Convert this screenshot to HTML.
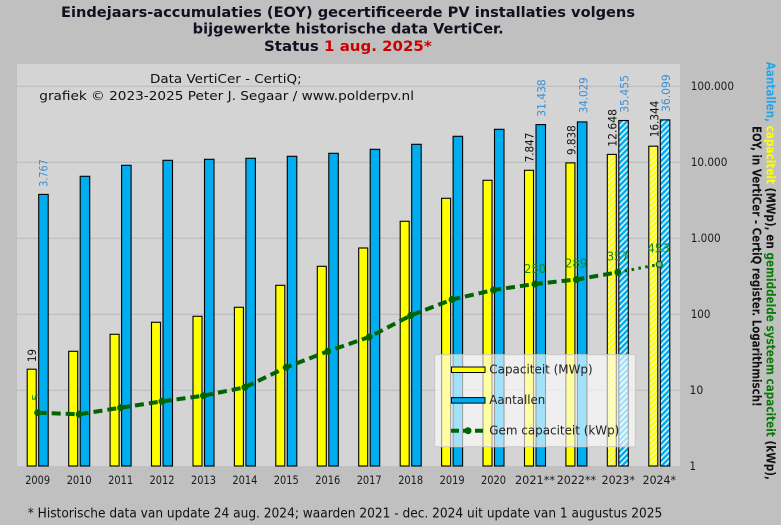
<!DOCTYPE html>
<html><head><meta charset="utf-8"><style>
html,body{margin:0;padding:0;background:#c0c0c0;}
svg{display:block;}
text{font-family:"DejaVu Sans","Liberation Sans",sans-serif;}
</style></head><body>
<svg width="781" height="525" viewBox="0 0 781 525" xmlns="http://www.w3.org/2000/svg">
<defs>
<pattern id="hy" width="4" height="4" patternUnits="userSpaceOnUse" patternTransform="rotate(45)">
<rect width="4" height="4" fill="#f4f4c0"/><rect width="2.5" height="4" fill="#ffff00"/>
</pattern>
<pattern id="hb" width="4" height="4" patternUnits="userSpaceOnUse" patternTransform="rotate(45)">
<rect width="4" height="4" fill="#e8f4fa"/><rect width="2.5" height="4" fill="#00aeef"/>
</pattern>
</defs>
<rect width="781" height="525" fill="#c0c0c0"/>
<rect x="17" y="64" width="663" height="402" fill="#d4d4d4"/>
<g stroke="#b8b8b8" stroke-width="1">
<line x1="17" x2="680" y1="86.3" y2="86.3"/>
<line x1="17" x2="680" y1="162.3" y2="162.3"/>
<line x1="17" x2="680" y1="238.3" y2="238.3"/>
<line x1="17" x2="680" y1="314.3" y2="314.3"/>
<line x1="17" x2="680" y1="390.3" y2="390.3"/>
</g>

<!-- Title -->
<g font-weight="bold" font-size="14.5" fill="#101020">
<text x="61" y="17" textLength="574" lengthAdjust="spacingAndGlyphs">Eindejaars-accumulaties (EOY) gecertificeerde PV installaties volgens</text>
<text x="192.7" y="33.5" textLength="311" lengthAdjust="spacingAndGlyphs">bijgewerkte historische data VertiCer.</text>
<text x="264" y="51" textLength="167.7" lengthAdjust="spacingAndGlyphs">Status <tspan fill="#cc0000">1 aug. 2025*</tspan></text>
</g>

<g font-size="12" fill="#111">
<text x="150" y="83" textLength="151.7" lengthAdjust="spacingAndGlyphs">Data VertiCer - CertiQ;</text>
<text x="39.3" y="100" textLength="374.7" lengthAdjust="spacingAndGlyphs">grafiek © 2023-2025 Peter J. Segaar / www.polderpv.nl</text>
</g>

<!-- Bars -->
<g stroke="#000" stroke-width="1.1">
<rect x="27.2" y="369.2" width="9" height="96.8" fill="#ffff00"/><rect x="38.7" y="194.4" width="9.5" height="271.6" fill="#00aeef"/>
<rect x="68.7" y="351.3" width="9" height="114.7" fill="#ffff00"/><rect x="80.2" y="176.3" width="9.5" height="289.7" fill="#00aeef"/>
<rect x="110.1" y="334.3" width="9" height="131.7" fill="#ffff00"/><rect x="121.6" y="165.3" width="9.5" height="300.7" fill="#00aeef"/>
<rect x="151.5" y="322.3" width="9" height="143.7" fill="#ffff00"/><rect x="163.0" y="160.3" width="9.5" height="305.7" fill="#00aeef"/>
<rect x="193.0" y="316.3" width="9" height="149.7" fill="#ffff00"/><rect x="204.5" y="159.3" width="9.5" height="306.7" fill="#00aeef"/>
<rect x="234.4" y="307.3" width="9" height="158.7" fill="#ffff00"/><rect x="245.9" y="158.3" width="9.5" height="307.7" fill="#00aeef"/>
<rect x="275.8" y="285.3" width="9" height="180.7" fill="#ffff00"/><rect x="287.3" y="156.3" width="9.5" height="309.7" fill="#00aeef"/>
<rect x="317.3" y="266.3" width="9" height="199.7" fill="#ffff00"/><rect x="328.8" y="153.3" width="9.5" height="312.7" fill="#00aeef"/>
<rect x="358.7" y="248" width="9" height="218" fill="#ffff00"/><rect x="370.2" y="149.3" width="9.5" height="316.7" fill="#00aeef"/>
<rect x="400.2" y="221.3" width="9" height="244.7" fill="#ffff00"/><rect x="411.7" y="144.3" width="9.5" height="321.7" fill="#00aeef"/>
<rect x="441.6" y="198.3" width="9" height="267.7" fill="#ffff00"/><rect x="453.1" y="136.3" width="9.5" height="329.7" fill="#00aeef"/>
<rect x="483.0" y="180.3" width="9" height="285.7" fill="#ffff00"/><rect x="494.5" y="129.3" width="9.5" height="336.7" fill="#00aeef"/>
<rect x="524.5" y="170.3" width="9" height="295.7" fill="#ffff00"/><rect x="536.0" y="124.6" width="9.5" height="341.4" fill="#00aeef"/>
<rect x="565.9" y="162.9" width="9" height="303.1" fill="#ffff00"/><rect x="577.4" y="121.9" width="9.5" height="344.1" fill="#00aeef"/>
<rect x="607.3" y="154.4" width="9" height="311.6" fill="url(#hy)"/><rect x="618.8" y="120.5" width="9.5" height="345.5" fill="url(#hb)"/>
<rect x="648.8" y="146.2" width="9" height="319.8" fill="url(#hy)"/><rect x="660.3" y="119.9" width="9.5" height="346.1" fill="url(#hb)"/>
</g>

<!-- Legend -->
<rect x="434.7" y="354.7" width="200.6" height="92" fill="#ffffff" fill-opacity="0.63" stroke="#c8c8c8" stroke-width="1"/>
<rect x="451.5" y="367" width="33.5" height="5.5" fill="#ffff00" stroke="#000" stroke-width="1"/>
<rect x="451.5" y="397.6" width="33.5" height="5.5" fill="#00aeef" stroke="#000" stroke-width="1"/>
<line x1="451" y1="430.7" x2="486" y2="430.7" stroke="#006400" stroke-width="4" stroke-dasharray="8 4"/>
<circle cx="468" cy="430.7" r="3.5" fill="#006400"/>
<g font-size="12" fill="#222">
<text x="489.3" y="373.5" textLength="103.4" lengthAdjust="spacingAndGlyphs">Capaciteit (MWp)</text>
<text x="489.3" y="404" textLength="56" lengthAdjust="spacingAndGlyphs">Aantallen</text>
<text x="489.3" y="434.5" textLength="130" lengthAdjust="spacingAndGlyphs">Gem capaciteit (kWp)</text>
</g>

<!-- Line -->
<polyline fill="none" stroke="#006400" stroke-width="4" stroke-dasharray="9 5"
points="37.7,412.7 79.2,414.3 120.6,407.7 162.0,401.3 203.5,395.7 244.9,387.3 286.3,367.3 327.8,351.3 369.2,337 410.7,315.5 452.1,299.5 493.5,290 535.0,284 576.4,279.5 617.8,272.3"/>
<line x1="617.8" y1="272.3" x2="659.3" y2="264.4" stroke="#006400" stroke-width="3" stroke-dasharray="2.5 4.5"/>
<g fill="#006400">
<circle cx="37.7" cy="412.7" r="3.5"/><circle cx="79.2" cy="414.3" r="3.5"/><circle cx="120.6" cy="407.7" r="3.5"/>
<circle cx="162.0" cy="401.3" r="3.5"/><circle cx="203.5" cy="395.7" r="3.5"/><circle cx="244.9" cy="387.3" r="3.5"/>
<circle cx="286.3" cy="367.3" r="3.5"/><circle cx="327.8" cy="351.3" r="3.5"/><circle cx="369.2" cy="337" r="3.5"/>
<circle cx="410.7" cy="315.5" r="3.5"/><circle cx="452.1" cy="299.5" r="3.5"/><circle cx="493.5" cy="290" r="3.5"/>
<circle cx="535.0" cy="284" r="3.5"/><circle cx="576.4" cy="279.5" r="3.5"/><circle cx="617.8" cy="272.3" r="3.5"/>
</g>
<circle cx="659.3" cy="264.4" r="3" fill="#8fb08f" stroke="#006400" stroke-width="1.2"/>

<!-- line labels -->
<g font-size="12" fill="#168a16" text-anchor="middle">
<text x="535" y="273" textLength="21.7" lengthAdjust="spacingAndGlyphs">250</text>
<text x="576.2" y="267.3" textLength="22.3" lengthAdjust="spacingAndGlyphs">289</text>
<text x="617.7" y="260.7" textLength="22" lengthAdjust="spacingAndGlyphs">357</text>
<text x="658.7" y="252.3" textLength="22.7" lengthAdjust="spacingAndGlyphs">453</text>
</g>
<text transform="translate(40,400.7) rotate(-90)" font-size="11" fill="#168a16" textLength="7" lengthAdjust="spacingAndGlyphs">5</text>

<!-- bar labels -->
<g font-size="11.5" fill="#111">
<text transform="translate(36,362) rotate(-90)" textLength="13" lengthAdjust="spacingAndGlyphs">19</text>
<text transform="translate(533.3,162.3) rotate(-90)" textLength="29.6" lengthAdjust="spacingAndGlyphs">7.847</text>
<text transform="translate(575.7,155) rotate(-90)" textLength="29.7" lengthAdjust="spacingAndGlyphs">9.838</text>
<text transform="translate(616.7,146.7) rotate(-90)" textLength="37.7" lengthAdjust="spacingAndGlyphs">12.648</text>
<text transform="translate(658.3,137.3) rotate(-90)" textLength="36.6" lengthAdjust="spacingAndGlyphs">16.344</text>
</g>
<g font-size="11.5" fill="#3b8fd9">
<text transform="translate(47.7,186.7) rotate(-90)" textLength="27.4" lengthAdjust="spacingAndGlyphs">3.767</text>
<text transform="translate(545.7,116.7) rotate(-90)" textLength="37.4" lengthAdjust="spacingAndGlyphs">31.438</text>
<text transform="translate(587.3,113.3) rotate(-90)" textLength="36" lengthAdjust="spacingAndGlyphs">34.029</text>
<text transform="translate(628.3,112.7) rotate(-90)" textLength="37.7" lengthAdjust="spacingAndGlyphs">35.455</text>
<text transform="translate(670,112) rotate(-90)" textLength="37.7" lengthAdjust="spacingAndGlyphs">36.099</text>
</g>

<!-- x labels -->
<g font-size="11.5" fill="#1a1a1a" text-anchor="middle">
<text x="37.7" y="484" textLength="25" lengthAdjust="spacingAndGlyphs">2009</text>
<text x="79.2" y="484" textLength="25" lengthAdjust="spacingAndGlyphs">2010</text>
<text x="120.6" y="484" textLength="25" lengthAdjust="spacingAndGlyphs">2011</text>
<text x="162.0" y="484" textLength="25" lengthAdjust="spacingAndGlyphs">2012</text>
<text x="203.5" y="484" textLength="25" lengthAdjust="spacingAndGlyphs">2013</text>
<text x="244.9" y="484" textLength="25" lengthAdjust="spacingAndGlyphs">2014</text>
<text x="286.3" y="484" textLength="25" lengthAdjust="spacingAndGlyphs">2015</text>
<text x="327.8" y="484" textLength="25" lengthAdjust="spacingAndGlyphs">2016</text>
<text x="369.2" y="484" textLength="25" lengthAdjust="spacingAndGlyphs">2017</text>
<text x="410.7" y="484" textLength="25" lengthAdjust="spacingAndGlyphs">2018</text>
<text x="452.1" y="484" textLength="25" lengthAdjust="spacingAndGlyphs">2019</text>
<text x="493.5" y="484" textLength="25" lengthAdjust="spacingAndGlyphs">2020</text>
<text x="535.0" y="484" textLength="40" lengthAdjust="spacingAndGlyphs">2021**</text>
<text x="576.4" y="484" textLength="39.3" lengthAdjust="spacingAndGlyphs">2022**</text>
<text x="618.3" y="484" textLength="33.3" lengthAdjust="spacingAndGlyphs">2023*</text>
<text x="659.3" y="484" textLength="33.3" lengthAdjust="spacingAndGlyphs">2024*</text>
</g>

<!-- right axis labels -->
<g font-size="11.5" fill="#1a1a1a">
<text x="690.7" y="90" textLength="43.3" lengthAdjust="spacingAndGlyphs">100.000</text>
<text x="690.7" y="166" textLength="36.7" lengthAdjust="spacingAndGlyphs">10.000</text>
<text x="690.7" y="242" textLength="30" lengthAdjust="spacingAndGlyphs">1.000</text>
<text x="690.7" y="318" textLength="19.7" lengthAdjust="spacingAndGlyphs">100</text>
<text x="689.5" y="394" textLength="13.8" lengthAdjust="spacingAndGlyphs">10</text>
<text x="689.5" y="470" textLength="6.5" lengthAdjust="spacingAndGlyphs">1</text>
</g>

<!-- right axis title -->
<g font-size="12" font-weight="bold">
<text transform="translate(766.3,61.7) rotate(90)" textLength="418.3" lengthAdjust="spacingAndGlyphs" fill="#111"><tspan fill="#2aa4e8">Aantallen,</tspan> <tspan fill="#ffff00">capaciteit</tspan> (MWp), en <tspan fill="#0a7a0a">gemiddelde systeem capaciteit</tspan> (kWp),</text>
<text transform="translate(752.7,126) rotate(90)" textLength="280.7" lengthAdjust="spacingAndGlyphs" fill="#111">EOY, in VertiCer - CertiQ register. Logarithmisch!</text>
</g>

<!-- footer -->
<text x="27.7" y="517.7" font-size="13" fill="#111" textLength="634.6" lengthAdjust="spacingAndGlyphs">* Historische data van update 24 aug. 2024; waarden 2021 - dec. 2024 uit update van 1 augustus 2025</text>
</svg>
</body></html>
